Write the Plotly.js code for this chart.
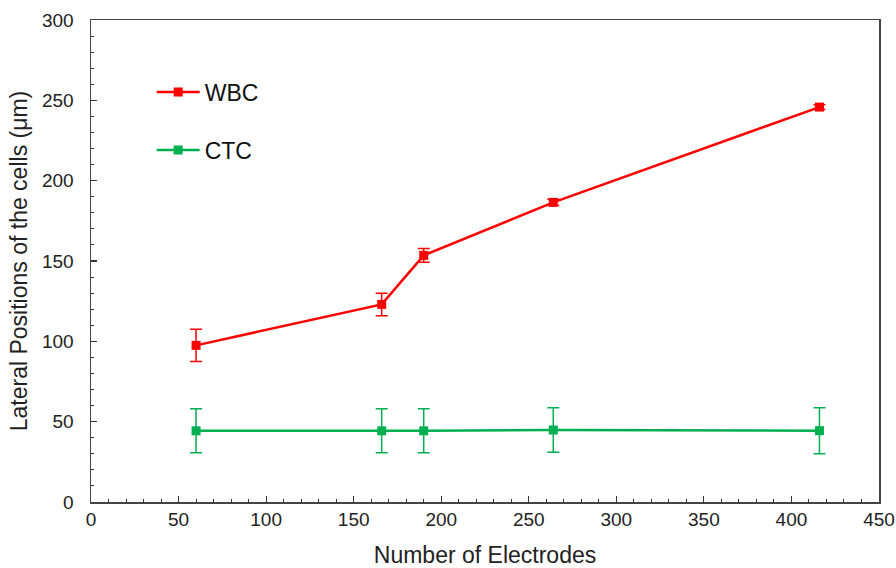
<!DOCTYPE html>
<html>
<head>
<meta charset="utf-8">
<script src="https://cdn.plot.ly/plotly-3.0.1.min.js"></script>
<style>html,body{margin:0;padding:0;background:#fff;}#chart{width:896px;height:568px;}</style>
</head>
<body>
<div id="chart"></div>
<script>
const electrodes = [60, 166, 190, 264, 416];
const wbcMean = [97.5, 123, 153.5, 186.5, 245.8];
const wbcErr = [10, 7, 4.3, 2, 1.5];
const ctcMean = [44.3, 44.3, 44.3, 44.8, 44.4];
const ctcErr = [13.7, 13.7, 13.7, 13.9, 14.3];
const seriesNames = ["WBC", "CTC"];

const RED = "#FF0000", GREEN = "#00B050";
function trace(name, y, err, color, grp) {
  return {
    x: electrodes, y: y, name: name, type: "scatter", mode: "lines+markers",
    legendgroup: grp,
    line: {color: color, width: 2.5},
    marker: {symbol: "square", size: 9, color: color},
    error_y: {type: "data", array: err, visible: true, color: color, thickness: 1.5, width: 6}
  };
}
const data = [
  trace(seriesNames[0], wbcMean, wbcErr, RED, "a"),
  trace(seriesNames[1], ctcMean, ctcErr, GREEN, "b")
];
const font = {family: "Liberation Sans, Arial, sans-serif", color: "#222"};
const layout = {
  width: 896, height: 568,
  margin: {l: 91, r: 17, t: 20, b: 66},
  paper_bgcolor: "#fff", plot_bgcolor: "#fff",
  font: font,
  showlegend: true,
  legend: {x: 0.077, y: 0.895, xanchor: "left", yanchor: "top", traceorder: "grouped", tracegroupgap: 25,
    itemwidth: 43,
    font: {size: 23, family: font.family, color: "#111"}, bgcolor: "rgba(0,0,0,0)"},
  xaxis: {
    range: [0, 450], tickvals: [0,50,100,150,200,250,300,350,400,450],
    ticks: "inside", ticklen: 6, tickwidth: 1.2, tickcolor: "#333",
    minor: {dtick: 10, ticks: "inside", ticklen: 3, tickwidth: 1, tickcolor: "#333"},
    showgrid: false, zeroline: false, showline: true, linecolor: "#444", linewidth: 1.5, mirror: true,
    tickfont: {size: 19, color: "#222"},
    title: {text: "Number of Electrodes", font: {size: 23, color: "#222"}, standoff: 17}
  },
  yaxis: {
    range: [0, 300], tickvals: [0,50,100,150,200,250,300],
    ticks: "inside", ticklen: 6, tickwidth: 1.2, tickcolor: "#333",
    minor: {dtick: 10, ticks: "inside", ticklen: 3, tickwidth: 1, tickcolor: "#333"},
    showgrid: false, zeroline: false, showline: true, linecolor: "#444", linewidth: 1.5, mirror: true,
    tickfont: {size: 19, color: "#222"}, ticklabelstandoff: 12,
    title: {text: "Lateral Positions of the cells (μm)", font: {size: 23, color: "#222"}, standoff: 8}
  }
};
Plotly.newPlot("chart", data, layout, {displayModeBar: false, staticPlot: true});
</script>
</body>
</html>
